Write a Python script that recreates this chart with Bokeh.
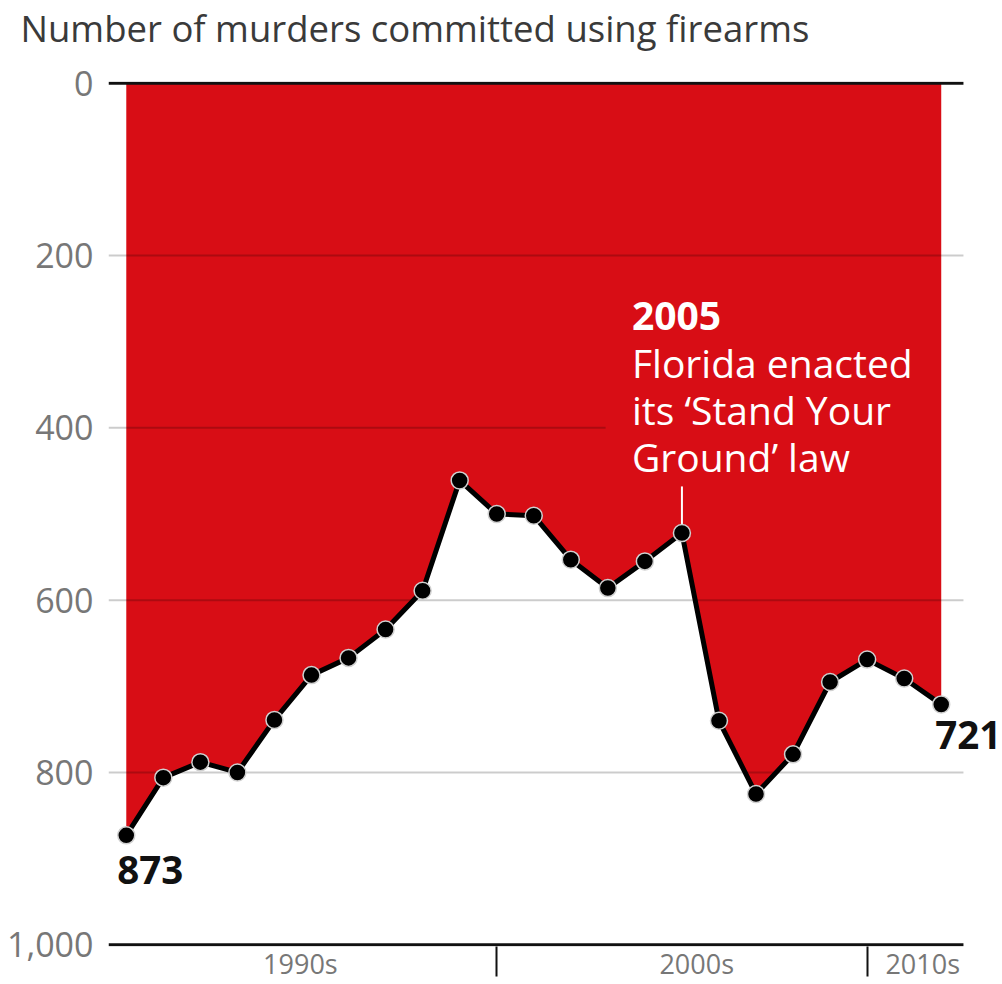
from bokeh.plotting import figure
from bokeh.models import Range1d, FixedTicker, NumeralTickFormatter, Label, Title
from bokeh.embed import file_html
from bokeh.resources import INLINE

# ---- data ----
years = list(range(1990, 2013))
murders = [873, 806, 788, 800, 739, 687, 667, 634, 589, 461, 500, 502,
           553, 586, 555, 522, 740, 825, 779, 695, 669, 691, 721]
y_ticks = [0, 200, 400, 600, 800, 1000]
grid_values = [200, 400, 600, 800]
decade_bounds = [2000, 2010]
decade_labels = ["1990s", "2000s", "2010s"]
decade_label_pos = [1994.7, 2005.4, 2011.5]
event_year = 2005
event_title = "2005"
event_lines = ["Florida enacted", "its \u2018Stand Your", "Ground\u2019 law"]
title_text = "Number of murders committed using firearms"

# ---- style ----
RED = "#d80d15"
FONT = "Open Sans"
x_lo, x_hi = 1989.52, 2013.6      # frame spans to the figure's right edge
x_end = 2012.6                    # where the rules stop

p = figure(width=1000, height=984,
           x_range=Range1d(x_lo, x_hi), y_range=Range1d(1002, -2),
           output_backend="svg", toolbar_location=None,
           min_border_left=108, min_border_right=0,
           min_border_top=81, min_border_bottom=36)
p.outline_line_color = None
p.background_fill_color = "white"
p.border_fill_color = "white"
p.xgrid.visible = False
p.ygrid.visible = False
p.title.text = ""

# spacer panel next to the frame, then the title above it
p.add_layout(Title(text=" ", text_font_size="1px", standoff=22), "above")
p.add_layout(Title(text=title_text, text_font=FONT, text_font_size="36.5px",
                   text_font_style="normal", text_color="#3a3a3a", align="left",
                   vertical_align="top", offset=-88, standoff=4), "above")

# red area between 0 (top) and the series
p.varea(x=years, y1=0, y2=murders, fill_color=RED)

# gridlines (the 400 line stops short of the annotation)
grid_x1 = [x_end if g != 400 else event_year - 2.06 for g in grid_values]
p.segment(x0=[x_lo] * len(grid_values), y0=grid_values, x1=grid_x1, y1=grid_values,
          line_color="black", line_alpha=0.2, line_width=2)
# top and bottom rules
p.segment(x0=[x_lo, x_lo], y0=[y_ticks[0], y_ticks[-1]], x1=[x_end, x_end],
          y1=[y_ticks[0], y_ticks[-1]], line_color="#111111", line_width=3)

# pointer for the annotation
ev_val = murders[years.index(event_year)]
p.segment(x0=[event_year], y0=[ev_val - 54], x1=[event_year], y1=[ev_val - 10],
          line_color="white", line_width=2)

p.line(years, murders, line_color="black", line_width=5, line_join="round")
p.scatter(years, murders, size=17, fill_color="black", line_color="#d0d0d0", line_width=1.5)

# annotation
p.add_layout(Label(x=event_year, y=ev_val, x_offset=-50, y_offset=217, text=event_title,
                   text_font=FONT, text_font_size="39px", text_font_style="bold",
                   text_color="white", text_baseline="alphabetic"))
for i, line in enumerate(event_lines):
    p.add_layout(Label(x=event_year, y=ev_val, x_offset=-50, y_offset=170 - 47 * i, text=line,
                       text_font=FONT, text_font_size="39px", text_color="white",
                       text_baseline="alphabetic"))

# end value labels
p.add_layout(Label(x=years[0], y=murders[0], x_offset=-9, y_offset=-35, text=str(murders[0]),
                   text_font=FONT, text_font_size="38.5px", text_font_style="bold",
                   text_color="#111111", text_baseline="alphabetic"))
p.add_layout(Label(x=years[-1], y=murders[-1], x_offset=-6, y_offset=-31, text=str(murders[-1]),
                   text_font=FONT, text_font_size="38.5px", text_font_style="bold",
                   text_color="#111111", text_baseline="alphabetic"))

# x axis
p.xaxis.ticker = FixedTicker(ticks=decade_label_pos, minor_ticks=decade_bounds)
p.xaxis.major_label_overrides = dict(zip(decade_label_pos, decade_labels))
p.xaxis.major_tick_out = 0
p.xaxis.major_tick_in = 0
p.xaxis.minor_tick_out = 0
p.xaxis.minor_tick_in = -30
p.xaxis.minor_tick_line_color = "#111111"
p.xaxis.minor_tick_line_width = 2
p.xaxis.axis_line_color = None
p.xaxis.major_label_standoff = -2
p.xaxis.major_label_text_font = FONT
p.xaxis.major_label_text_font_size = "27px"
p.xaxis.major_label_text_color = "#777777"

# y axis
p.yaxis.ticker = FixedTicker(ticks=y_ticks)
p.yaxis.formatter = NumeralTickFormatter(format="0,0")
p.yaxis.axis_line_color = None
p.yaxis.major_tick_out = 0
p.yaxis.major_tick_in = 0
p.yaxis.minor_tick_line_color = None
p.yaxis.major_label_standoff = 15
p.yaxis.major_label_text_font = FONT
p.yaxis.major_label_text_font_size = "34px"
p.yaxis.major_label_text_color = "#777777"

open("out.html", "w").write(file_html(p, INLINE))
